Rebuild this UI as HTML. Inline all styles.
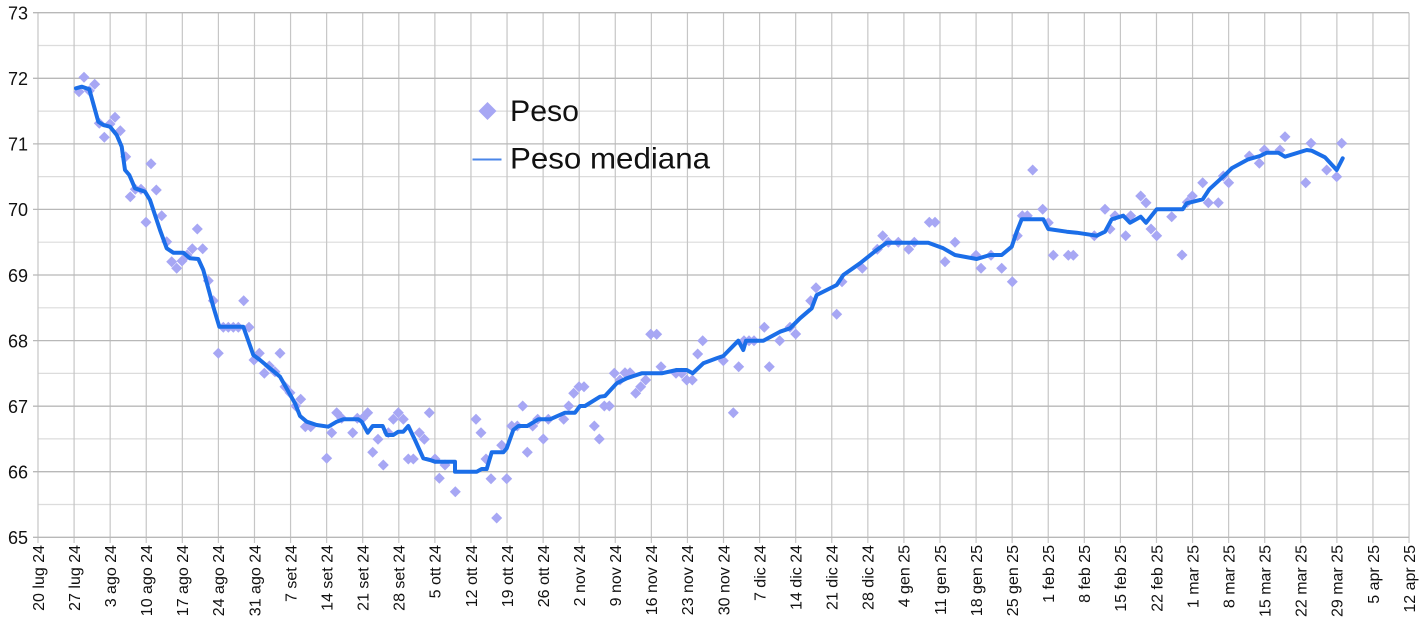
<!DOCTYPE html>
<html><head><meta charset="utf-8"><style>
html,body{margin:0;padding:0;background:#fff;}
svg{display:block;}
text{font-family:"Liberation Sans",Arial,sans-serif;fill:#111;}
</style></head><body>
<svg width="1419" height="631" viewBox="0 0 1419 631" xmlns="http://www.w3.org/2000/svg">
<defs>
<marker id="d" markerUnits="userSpaceOnUse" markerWidth="12" markerHeight="12" refX="6" refY="6" overflow="visible">
<polygon points="6,0.5 11.5,6 6,11.5 0.5,6" fill="#a7a7f4"/>
</marker>
</defs>
<rect width="1419" height="631" fill="#fff"/>
<g stroke="#dcdcdc" stroke-width="1.2">
<line x1="38" x2="1409" y1="45.5" y2="45.5"/>
<line x1="38" x2="1409" y1="111.1" y2="111.1"/>
<line x1="38" x2="1409" y1="176.6" y2="176.6"/>
<line x1="38" x2="1409" y1="242.2" y2="242.2"/>
<line x1="38" x2="1409" y1="307.8" y2="307.8"/>
<line x1="38" x2="1409" y1="373.4" y2="373.4"/>
<line x1="38" x2="1409" y1="438.9" y2="438.9"/>
<line x1="38" x2="1409" y1="504.5" y2="504.5"/>
</g>
<g stroke="#c6c6c6" stroke-width="1.2">
<line y1="12.7" y2="543" x1="38" x2="38"/>
<line y1="12.7" y2="543" x1="74.08" x2="74.08"/>
<line y1="12.7" y2="543" x1="110.16" x2="110.16"/>
<line y1="12.7" y2="543" x1="146.24" x2="146.24"/>
<line y1="12.7" y2="543" x1="182.32" x2="182.32"/>
<line y1="12.7" y2="543" x1="218.4" x2="218.4"/>
<line y1="12.7" y2="543" x1="254.48" x2="254.48"/>
<line y1="12.7" y2="543" x1="290.56" x2="290.56"/>
<line y1="12.7" y2="543" x1="326.64" x2="326.64"/>
<line y1="12.7" y2="543" x1="362.72" x2="362.72"/>
<line y1="12.7" y2="543" x1="398.8" x2="398.8"/>
<line y1="12.7" y2="543" x1="434.88" x2="434.88"/>
<line y1="12.7" y2="543" x1="470.96" x2="470.96"/>
<line y1="12.7" y2="543" x1="507.04" x2="507.04"/>
<line y1="12.7" y2="543" x1="543.12" x2="543.12"/>
<line y1="12.7" y2="543" x1="579.2" x2="579.2"/>
<line y1="12.7" y2="543" x1="615.28" x2="615.28"/>
<line y1="12.7" y2="543" x1="651.36" x2="651.36"/>
<line y1="12.7" y2="543" x1="687.44" x2="687.44"/>
<line y1="12.7" y2="543" x1="723.52" x2="723.52"/>
<line y1="12.7" y2="543" x1="759.6" x2="759.6"/>
<line y1="12.7" y2="543" x1="795.68" x2="795.68"/>
<line y1="12.7" y2="543" x1="831.76" x2="831.76"/>
<line y1="12.7" y2="543" x1="867.84" x2="867.84"/>
<line y1="12.7" y2="543" x1="903.92" x2="903.92"/>
<line y1="12.7" y2="543" x1="940" x2="940"/>
<line y1="12.7" y2="543" x1="976.08" x2="976.08"/>
<line y1="12.7" y2="543" x1="1012.16" x2="1012.16"/>
<line y1="12.7" y2="543" x1="1048.24" x2="1048.24"/>
<line y1="12.7" y2="543" x1="1084.32" x2="1084.32"/>
<line y1="12.7" y2="543" x1="1120.4" x2="1120.4"/>
<line y1="12.7" y2="543" x1="1156.48" x2="1156.48"/>
<line y1="12.7" y2="543" x1="1192.56" x2="1192.56"/>
<line y1="12.7" y2="543" x1="1228.64" x2="1228.64"/>
<line y1="12.7" y2="543" x1="1264.72" x2="1264.72"/>
<line y1="12.7" y2="543" x1="1300.8" x2="1300.8"/>
<line y1="12.7" y2="543" x1="1336.88" x2="1336.88"/>
<line y1="12.7" y2="543" x1="1372.96" x2="1372.96"/>
<line y1="12.7" y2="543" x1="1409.04" x2="1409.04"/>
</g>
<g stroke="#b8b8b8" stroke-width="1.3">
<line x1="33" x2="1409" y1="12.7" y2="12.7"/>
<line x1="33" x2="1409" y1="78.3" y2="78.3"/>
<line x1="33" x2="1409" y1="143.9" y2="143.9"/>
<line x1="33" x2="1409" y1="209.4" y2="209.4"/>
<line x1="33" x2="1409" y1="275" y2="275"/>
<line x1="33" x2="1409" y1="340.6" y2="340.6"/>
<line x1="33" x2="1409" y1="406.2" y2="406.2"/>
<line x1="33" x2="1409" y1="471.7" y2="471.7"/>
<line x1="33" x2="1409" y1="537.3" y2="537.3"/>
</g>
<g font-size="18" text-anchor="end">
<text x="28" y="19.5">73</text>
<text x="28" y="85.1">72</text>
<text x="28" y="150.7">71</text>
<text x="28" y="216.2">70</text>
<text x="28" y="281.8">69</text>
<text x="28" y="347.4">68</text>
<text x="28" y="413">67</text>
<text x="28" y="478.5">66</text>
<text x="28" y="544.1">65</text>
</g>
<g font-size="16" text-anchor="end">
<text transform="translate(43.8,545) rotate(-90)">20 lug 24</text>
<text transform="translate(79.88,545) rotate(-90)">27 lug 24</text>
<text transform="translate(115.96,545) rotate(-90)">3 ago 24</text>
<text transform="translate(152.04,545) rotate(-90)">10 ago 24</text>
<text transform="translate(188.12,545) rotate(-90)">17 ago 24</text>
<text transform="translate(224.2,545) rotate(-90)">24 ago 24</text>
<text transform="translate(260.28,545) rotate(-90)">31 ago 24</text>
<text transform="translate(296.36,545) rotate(-90)">7 set 24</text>
<text transform="translate(332.44,545) rotate(-90)">14 set 24</text>
<text transform="translate(368.52,545) rotate(-90)">21 set 24</text>
<text transform="translate(404.6,545) rotate(-90)">28 set 24</text>
<text transform="translate(440.68,545) rotate(-90)">5 ott 24</text>
<text transform="translate(476.76,545) rotate(-90)">12 ott 24</text>
<text transform="translate(512.84,545) rotate(-90)">19 ott 24</text>
<text transform="translate(548.92,545) rotate(-90)">26 ott 24</text>
<text transform="translate(585,545) rotate(-90)">2 nov 24</text>
<text transform="translate(621.08,545) rotate(-90)">9 nov 24</text>
<text transform="translate(657.16,545) rotate(-90)">16 nov 24</text>
<text transform="translate(693.24,545) rotate(-90)">23 nov 24</text>
<text transform="translate(729.32,545) rotate(-90)">30 nov 24</text>
<text transform="translate(765.4,545) rotate(-90)">7 dic 24</text>
<text transform="translate(801.48,545) rotate(-90)">14 dic 24</text>
<text transform="translate(837.56,545) rotate(-90)">21 dic 24</text>
<text transform="translate(873.64,545) rotate(-90)">28 dic 24</text>
<text transform="translate(909.72,545) rotate(-90)">4 gen 25</text>
<text transform="translate(945.8,545) rotate(-90)">11 gen 25</text>
<text transform="translate(981.88,545) rotate(-90)">18 gen 25</text>
<text transform="translate(1017.96,545) rotate(-90)">25 gen 25</text>
<text transform="translate(1054.04,545) rotate(-90)">1 feb 25</text>
<text transform="translate(1090.12,545) rotate(-90)">8 feb 25</text>
<text transform="translate(1126.2,545) rotate(-90)">15 feb 25</text>
<text transform="translate(1162.28,545) rotate(-90)">22 feb 25</text>
<text transform="translate(1198.36,545) rotate(-90)">1 mar 25</text>
<text transform="translate(1234.44,545) rotate(-90)">8 mar 25</text>
<text transform="translate(1270.52,545) rotate(-90)">15 mar 25</text>
<text transform="translate(1306.6,545) rotate(-90)">22 mar 25</text>
<text transform="translate(1342.68,545) rotate(-90)">29 mar 25</text>
<text transform="translate(1378.76,545) rotate(-90)">5 apr 25</text>
<text transform="translate(1414.84,545) rotate(-90)">12 apr 25</text>
</g>
<polyline fill="none" stroke="none" marker-start="url(#d)" marker-mid="url(#d)" marker-end="url(#d)" points="79,91.7 84,77.3 89.3,90.7 94.7,84.3 99.3,123.3 104.3,137.3 110,124 115,117.3 120.3,130.7 125.7,156.7 130.3,196.7 135.3,189.3 141,189.3 146,222.3 151,163.7 156.3,190 161.7,215.7 166.7,241.7 171.7,261.7 176.7,268.3 182,261 187,255 192.3,248.7 197.3,229 202.7,248.7 208.3,280.7 213.3,300.7 218.3,353.3 223.3,327.3 228.3,327.3 233.3,327.3 238.3,327.3 243.7,300.7 249,327.3 254,360 259.3,353.3 264.3,373.3 269.3,366 275,371.7 280,353.3 285,386.7 290,392.7 295.7,406 300.7,399.3 305.3,426.7 310.7,426.7 326.7,458.3 331.7,432.7 336.7,412.7 341.7,418.3 352.7,432.7 357.3,418.3 362.7,418.3 367.7,412.7 372.7,452.3 378,439.3 383.3,465 388.3,432.7 393.3,419.3 398.3,412.7 403.3,419.3 408.3,459 413.3,459 419.3,432.7 424.3,439.3 429.3,412.7 435,459 439.3,478.3 445,465 455.3,491.7 476,419.3 481,432.7 486,459 491,478.7 496.7,518 501.7,445.3 506.7,478.7 511.7,426 517.3,426 522.7,406 527.3,452.3 532.7,426 537.7,419.3 543.3,439 548.3,419.3 563.7,419.3 568.7,406 573.7,393.3 579,386.7 584,386.7 594.3,426 599.3,439 604.3,406 609.3,406 614.3,373.3 620,380 625,372.7 630,372.7 635.7,393.3 640.7,386.7 645.7,380 650.7,334.3 656.7,334.3 661,366.7 676,373.3 681.7,373.3 686.7,380 692.3,380 697.7,354 702.7,340.7 723.3,360.7 733.3,412.7 738.7,366.7 744,340.7 749,340.7 754,340.7 764.3,327.3 769.3,366.7 779.7,340.7 790,327.3 795.7,334 810.7,300.7 816,287.7 836.7,314.3 842,281.7 862.3,268.3 877.3,249.3 882.7,235.7 888.3,242.3 898.3,242.3 908.7,249.3 914.3,242.3 929.3,222.3 935,222.3 945,261.7 955,242.3 976,255.3 981,268.3 991,255.3 1001.7,268.3 1012.3,281.7 1017.3,235.7 1022.3,215.7 1027.3,215.7 1032.7,170 1042.7,209.3 1048.3,222.7 1053.3,255.3 1068.3,255.3 1073.3,255.3 1094.3,235.7 1105,209.3 1110,229 1115,215.7 1125.7,235.7 1130.7,215.7 1140.7,196 1146,202.7 1151,229 1156.7,235.7 1171.7,216.7 1182,255 1187.3,202.3 1192.3,196 1202.7,182.7 1208.3,202.7 1218.3,202.7 1223.3,176 1228.7,182.7 1249.3,156 1259.3,163.3 1264.3,150 1280,150 1285,136.7 1305.7,182.7 1311,143.3 1326.7,170 1336.7,176.7 1341.7,143.3"/>
<polyline fill="none" stroke="#1b6ee8" stroke-width="4" stroke-linejoin="round" stroke-linecap="round" points="76,88.3 81.7,86.7 89.3,89.3 98.3,121.7 103.3,125 110,126.7 116.7,135 121.7,146.7 125,170 129.3,175 135,188.3 145,191.7 150,200 160,230 166.7,248.3 173.3,252.7 183.3,252.7 190,258.3 198.3,259 203.3,270 213.3,306.7 219.3,326.7 243.3,326.7 253.3,355 260,360 280,376.7 295,403.3 300,416 306.7,421.7 316.7,425 328.3,426.7 336.7,421.7 343.3,419.3 358.3,419.3 361.7,421.7 367.7,432.7 372.7,426 382.7,426 386.7,435 393.3,435 398.3,431.7 403.3,431.7 408.3,426 415,440 423.3,458.3 430,460 435,461.7 455,461.7 455,471.7 476.7,471.7 481.7,469 486.7,469 491.7,452.3 503.3,452.3 506.7,448.3 513.3,430 518.3,426 527.3,426 538.3,419.3 550,419.3 565,412.7 575,412.7 580,406 585,406 600,396.7 605,396 616.7,383.3 626.7,378.3 641.7,373.3 661.7,373.3 676.7,370 686.7,370 692.7,373.3 703.3,363.3 716.7,358.3 723.3,356 738.3,340.7 743.3,350 746,340.7 763.3,340.7 780,331.7 790,328.3 800,318.3 811.7,308.3 816.7,295 836.7,285 843.3,275 860,263.3 876.7,250 886.7,242.7 928.3,242.7 943.3,248.3 955,255 976.7,259 990,255 1001.7,255 1011.7,246.7 1016.7,231.7 1021.7,219.3 1043.3,219.3 1048.3,229 1066.7,231.7 1076.7,232.7 1096.7,235.7 1105,231.7 1111.7,219.3 1123.3,215.7 1130,222.7 1140.7,216.7 1146,222.7 1156.7,209.3 1182.7,209.3 1186.7,203.3 1202.7,199.3 1209.3,189.3 1226.7,173.3 1231.7,168.3 1248.3,159.3 1260,156 1266.7,152.7 1278.3,152.7 1285,156.7 1306.7,150 1311.7,150.7 1325,157.3 1336.7,170 1342.7,158.3"/>
<polygon points="487.5,102 496.5,111 487.5,120 478.5,111" fill="#a7a7f4"/>
<text x="510" y="121" font-size="30" textLength="69" lengthAdjust="spacingAndGlyphs">Peso</text>
<line x1="472.5" x2="501.5" y1="159.5" y2="159.5" stroke="#4a86e8" stroke-width="2"/>
<text x="510" y="168.5" font-size="30" textLength="200" lengthAdjust="spacingAndGlyphs">Peso mediana</text>
</svg>
</body></html>
